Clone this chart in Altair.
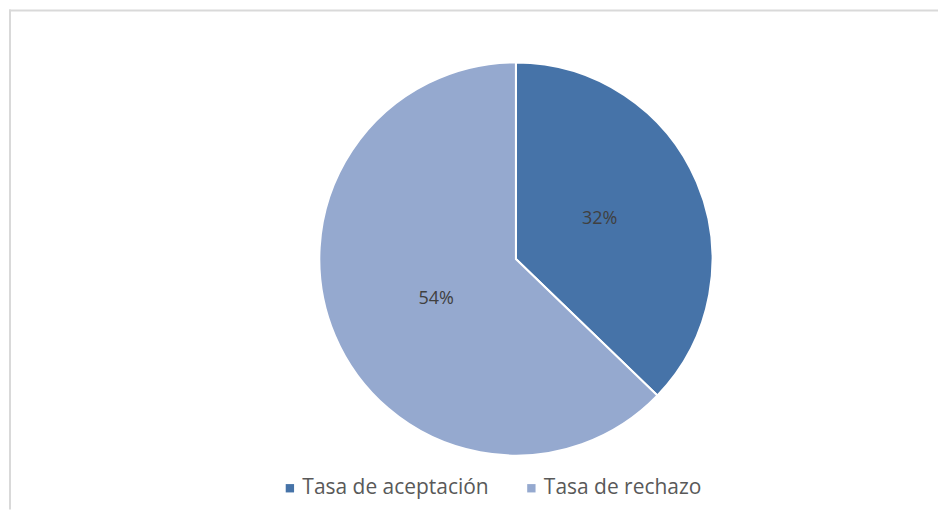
import altair as alt
import pandas as pd

categories = ["Tasa de aceptación", "Tasa de rechazo"]
values = [32, 54]
labels = ["32%", "54%"]
order = [1, 2]
colors = ["#4673A8", "#95A9CF"]

df = pd.DataFrame({"cat": categories, "val": values, "lab": labels, "ord": order})

W, H = 931, 501
CX, CY = 508, 250
R = 197

base = alt.Chart(df).encode(
    theta=alt.Theta("val:Q", stack=True),
    order=alt.Order("ord:Q"),
)

pie = base.mark_arc(outerRadius=R, stroke="white", strokeWidth=2).encode(
    x=alt.value(CX),
    y=alt.value(CY),
    color=alt.Color(
        "cat:N",
        scale=alt.Scale(domain=categories, range=colors),
        sort=categories,
        legend=alt.Legend(
            title=None,
            orient="none",
            legendX=271,
            legendY=469,
            direction="horizontal",
            symbolType="square",
            symbolSize=70,
            symbolStrokeWidth=0,
            labelFont="Open Sans",
            labelFontSize=21,
            labelColor="#595959",
            labelLimit=300,
            columnPadding=32,
            symbolOffset=0,
            labelOffset=2,
        ),
    ),
)

text = base.mark_text(
    radius=91, thetaOffset=-0.05, font="Open Sans", fontSize=18, color="#404040"
).encode(
    x=alt.value(CX + 2),
    y=alt.value(CY),
    text="lab:N",
)

frame_left = alt.Chart(df.head(1)).mark_rule(color="#d9d9d9", strokeWidth=2).encode(
    x=alt.value(1)
)
frame_top = alt.Chart(df.head(1)).mark_rule(color="#d9d9d9", strokeWidth=2).encode(
    y=alt.value(1)
)

chart = (
    alt.layer(frame_left, frame_top, pie, text)
    .properties(width=W, height=H, padding=0)
    .configure_view(strokeWidth=0, strokeOpacity=0)
)

chart.save("out.html", embed_options={"renderer": "svg", "actions": False})
